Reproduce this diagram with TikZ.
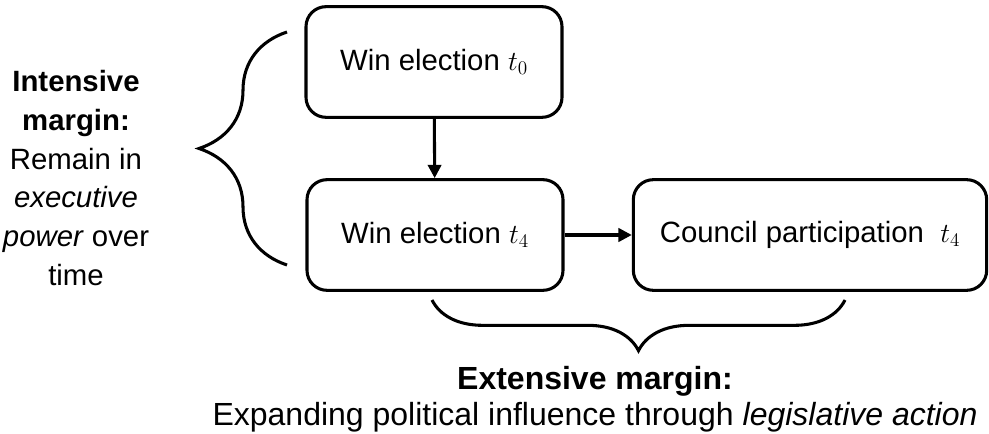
\documentclass[tikz,border=0pt]{standalone}
\usepackage{fontspec}
\setmainfont{Liberation Sans}
\usetikzlibrary{arrows.meta, positioning, decorations.pathreplacing}
\tikzset{
	stagebox/.style ={rectangle, rounded corners=15pt, draw=black, line width=2.3pt, minimum height=83pt, align=center, font=\fontsize{22}{26}\selectfont},
	flowarrow/.style={-{Triangle[length=10pt, width=10pt]}, line width=2.3pt},
	bracebig/.style ={decorate, line width=2.3pt},
	margintxt/.style={align=center, font=\fontsize{22}{29}\selectfont},
}
\begin{document}
\begin{tikzpicture}[x=0.75pt, y=-0.75pt]
	\useasboundingbox (0,0) rectangle (989,434);
	% stages
	\node[stagebox, minimum width=192pt] (win0) at (434,62) {Win election $t_0$};
	\node[stagebox, minimum width=192pt] (win4) at (435,235) {Win election $t_4$};
	\node[stagebox, minimum width=265pt] (council) at (810,235) {Council participation\ \ $t_4$};
	\draw[flowarrow] (win0) -- (win4);
	\draw[flowarrow] (win4) -- (council);
	% margins
	\coordinate (intTop) at (287,32);
	\coordinate (intBot) at (287,265);
	\coordinate (extL) at (432,300);
	\coordinate (extR) at (845,300);
	\draw[bracebig, decoration={brace, amplitude=66pt}] (intBot) -- (intTop);
	\draw[bracebig, decoration={brace, amplitude=38pt}] (extR) -- (extL);
	\node[margintxt] (intensive) at (76,178) {\textbf{Intensive}\\\textbf{margin:}\\Remain in\\\textit{executive}\\\textit{power} over\\time};
	\node[margintxt, font=\fontsize{24}{27}\selectfont] (extensive) at (595,399) {\textbf{Extensive margin:}\\Expanding political influence through \textit{legislative action}};
\end{tikzpicture}
\end{document}
